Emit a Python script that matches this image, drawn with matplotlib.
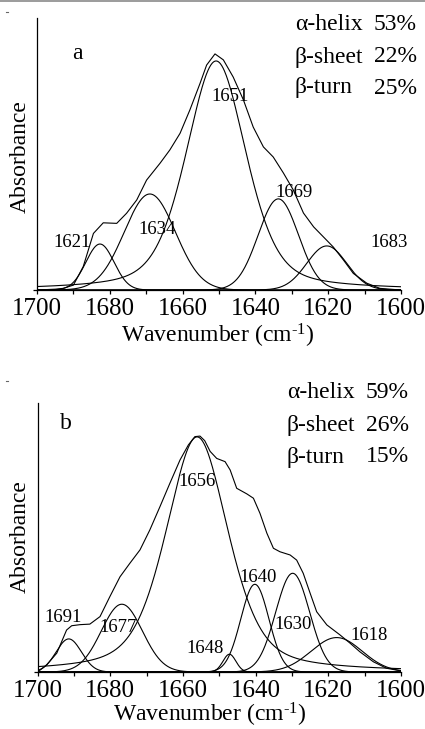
import numpy as np
import matplotlib
matplotlib.use("Agg")
import matplotlib.pyplot as plt
from matplotlib.lines import Line2D

plt.rcParams["font.family"] = ["Liberation Serif", "DejaVu Serif"]
plt.rcParams["mathtext.fontset"] = "custom"
plt.rcParams["mathtext.rm"] = "Liberation Serif"
plt.rcParams["mathtext.it"] = "Liberation Serif:italic"

# ---- panel a: fitted bands (centre, height, fwhm, lorentz share) ----
a_centres = [1682.7, 1669.0, 1650.8, 1633.7, 1620.4]
a_heights = [0.169, 0.353, 0.842, 0.335, 0.162]
a_fwhm = [9.1, 16.5, 19.5, 13.0, 12.9]
a_eta = [0.0, 0.0, 0.4, 0.0, 0.0]
# measured envelope
a_env_w = [1700, 1695, 1692.8, 1690.0, 1687.3, 1684.5, 1681.8, 1678.1, 1675.4,
           1672.6, 1669.9, 1666.2, 1663.5, 1660.7, 1658.0, 1655.2, 1653.4,
           1651.1, 1648.8, 1646.1, 1643.3, 1640.6, 1637.8, 1635.1, 1632.3,
           1629.6, 1626.8, 1624.0, 1621.3, 1618.6, 1615.8, 1613.1, 1609.4,
           1605.8, 1602, 1600]
a_env = [0.0, 0.003, 0.006, 0.018, 0.086, 0.208, 0.247, 0.245, 0.282,
         0.331, 0.404, 0.466, 0.515, 0.576, 0.662, 0.760, 0.827,
         0.868, 0.846, 0.783, 0.699, 0.599, 0.526, 0.489, 0.430,
         0.368, 0.283, 0.232, 0.195, 0.158, 0.110, 0.061, 0.025,
         0.006, 0.002, 0.0]
a_peak_labels = ["1621", "1634", "1651", "1669", "1683"]
a_content = [("α-helix", "53%"), ("β-sheet", "22%"), ("β-turn", "25%")]

# ---- panel b ----
b_centres = [1691.4, 1676.8, 1656.1, 1647.2, 1640.2, 1629.8, 1617.7]
b_heights = [0.123, 0.252, 0.874, 0.066, 0.326, 0.367, 0.128]
b_fwhm = [8.2, 13.3, 20.3, 4.2, 9.1, 11.0, 16.5]
b_eta = [0.0, 0.0, 0.45, 0.0, 0.0, 0.0, 0.0]
b_env_w = [1700, 1699.3, 1697.5, 1694.7, 1692.0, 1690.6, 1688.3, 1685.6, 1682.8,
           1680.1, 1677.3, 1674.6, 1671.8, 1669.1, 1666.3, 1663.6, 1660.8,
           1658.5, 1656.7, 1655.3, 1654.0, 1652.5, 1650.7, 1648.4, 1647.0,
           1645.2, 1642.4, 1640.6, 1638.8, 1636.9, 1635.1, 1633.3, 1630.5,
           1628.7, 1626.9, 1625.0, 1623.2, 1620.4, 1616.8, 1614.0, 1611.3,
           1607.6, 1604.0, 1600]
b_env = [0.0, 0.007, 0.026, 0.070, 0.156, 0.172, 0.176, 0.178, 0.206,
         0.280, 0.354, 0.404, 0.454, 0.528, 0.615, 0.701, 0.788,
         0.844, 0.875, 0.877, 0.860, 0.820, 0.794, 0.782, 0.751,
         0.683, 0.662, 0.646, 0.590, 0.516, 0.460, 0.447, 0.435,
         0.416, 0.367, 0.293, 0.224, 0.175, 0.138, 0.107, 0.075,
         0.038, 0.014, 0.004]
b_peak_labels = ["1691", "1677", "1656", "1648", "1640", "1630", "1618"]
b_content = [("α-helix", "59%"), ("β-sheet", "26%"), ("β-turn", "15%")]

W, H = 425, 729


def band(x, c, h, w, eta):
    u = (x - c) / w
    g = np.exp(-4 * np.log(2) * u ** 2)
    l = 1 / (1 + 4 * u ** 2)
    return h * (eta * l + (1 - eta) * g)


def panel(fig, rect, centres, heights, fwhm, eta, env_w, env, labels, label_pos,
          letter, letter_pos, content, name_x, pct_x, content_y,
          ylab_pos, xlab_pos):
    ax = fig.add_axes(rect)
    x = np.linspace(1700, 1600, 801)
    for c, h, w, e in zip(centres, heights, fwhm, eta):
        ax.plot(x, band(x, c, h, w, e), color="black", lw=0.8)
    ax.plot(env_w, env, color="black", lw=0.8)

    ax.set_xlim(1700, 1600)
    ax.set_ylim(0, 1)
    for s in ("top", "right"):
        ax.spines[s].set_visible(False)
    for s in ("left", "bottom"):
        ax.spines[s].set_linewidth(0.9)
    ax.set_xticks(np.arange(1700, 1599, -20))
    ax.set_xticks(np.arange(1690, 1600, -20), minor=True)
    ax.set_yticks([0])
    ax.set_yticklabels([])
    ax.tick_params(axis="x", which="both", direction="out", length=3, width=0.9,
                   labelsize=18, pad=2.5)
    ax.tick_params(axis="y", direction="out", length=3, width=0.9)

    for t, (px, py) in zip(labels, label_pos):
        ax.text(px, py, t, fontsize=13.5, ha="center", va="center")
    ax.text(letter_pos[0], letter_pos[1], letter, fontsize=17, ha="center", va="center")

    for (name, pct), y in zip(content, content_y):
        fig.text(name_x / W, 1 - y / H, name, fontsize=17, ha="left", va="center")
        fig.text(pct_x / W, 1 - y / H, pct, fontsize=17, ha="left", va="center")

    fig.text(ylab_pos[0] / W, 1 - ylab_pos[1] / H, "Absorbance", fontsize=17,
             rotation=90, ha="center", va="center")
    fig.text(xlab_pos[0] / W, 1 - xlab_pos[1] / H, r"Wavenumber (cm$^{\text{-}1}$)",
             fontsize=17, ha="center", va="center")
    return ax


fig = plt.figure(figsize=(W / 100, H / 100), dpi=100)

panel(fig, [37 / W, 1 - 290 / H, 364 / W, 272 / H],
      a_centres, a_heights, a_fwhm, a_eta, a_env_w, a_env, a_peak_labels,
      [(1690.4, 0.176), (1667.0, 0.224), (1647.0, 0.710), (1629.4, 0.360), (1603.3, 0.176)],
      "a", (1689, 0.871), a_content, 295, 374, [25, 57, 88],
      (20, 157), (218, 336))

panel(fig, [37.5 / W, 1 - 672 / H, 363.5 / W, 269 / H],
      b_centres, b_heights, b_fwhm, b_eta, b_env_w, b_env, b_peak_labels,
      [(1693.0, 0.201), (1677.9, 0.167), (1656.1, 0.710), (1653.9, 0.086),
       (1639.3, 0.353), (1629.7, 0.175), (1608.8, 0.134)],
      "b", (1692.3, 0.922), b_content, 287, 366, [393, 425, 457],
      (20, 537), (210, 715))

# small marks at the top-left corners and the top border of the scan
fig.add_artist(Line2D([0, 1], [1 - 0.7 / H, 1 - 0.7 / H], color="#8a8a8a", lw=1.2))
fig.add_artist(Line2D([6 / W, 8 / W], [1 - 12 / H, 1 - 12 / H], color="#666666", lw=0.8))
fig.add_artist(Line2D([6 / W, 8 / W], [1 - 381 / H, 1 - 381 / H], color="#666666", lw=0.8))

fig.savefig("out.png", dpi=100)
